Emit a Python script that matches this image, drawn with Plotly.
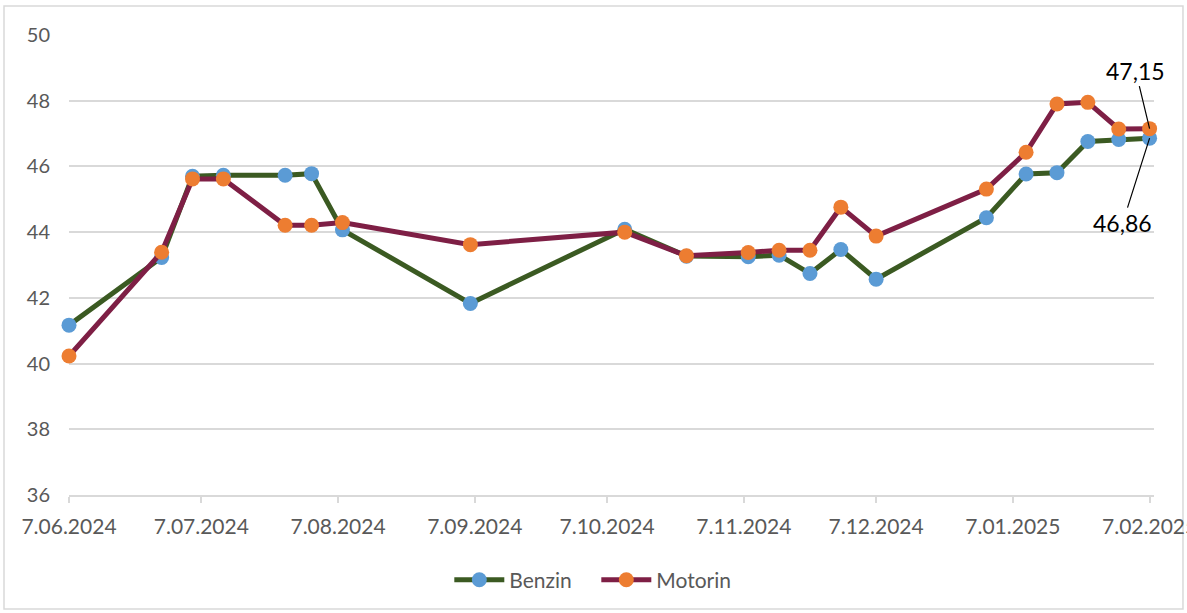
import plotly.graph_objects as go

dates = ["2024-06-07", "2024-06-28", "2024-07-05", "2024-07-12", "2024-07-26", "2024-08-01",
         "2024-08-08", "2024-09-06", "2024-10-11", "2024-10-25", "2024-11-08", "2024-11-15",
         "2024-11-22", "2024-11-29", "2024-12-07", "2025-01-01", "2025-01-10", "2025-01-17",
         "2025-01-24", "2025-01-31", "2025-02-07"]
benzin = [41.17, 43.23, 45.70, 45.73, 45.73, 45.78, 44.07, 41.83, 44.09, 43.27, 43.25,
          43.30, 42.74, 43.47, 42.57, 44.44, 45.77, 45.81, 46.76, 46.82, 46.86]
motorin = [40.23, 43.39, 45.62, 45.62, 44.21, 44.21, 44.29, 43.62, 44.00, 43.28, 43.38,
           43.45, 43.45, 44.76, 43.88, 45.31, 46.43, 47.90, 47.95, 47.14, 47.15]
tick_dates = ["2024-06-07", "2024-07-07", "2024-08-07", "2024-09-07", "2024-10-07",
              "2024-11-07", "2024-12-07", "2025-01-07", "2025-02-07"]
tick_labels = ["7.06.2024", "7.07.2024", "7.08.2024", "7.09.2024", "7.10.2024",
               "7.11.2024", "7.12.2024", "7.01.2025", "7.02.2025"]

FONT = "Lato"
GREY = "#595959"

fig = go.Figure()
fig.add_trace(go.Scatter(
    x=dates, y=benzin, name="Benzin", mode="lines+markers", cliponaxis=False,
    line=dict(color="#3b5a22", width=5),
    marker=dict(color="#5b9bd5", size=15),
))
fig.add_trace(go.Scatter(
    x=dates, y=motorin, name="Motorin", mode="lines+markers", cliponaxis=False,
    line=dict(color="#7e1f45", width=5),
    marker=dict(color="#ed7d31", size=15),
))

fig.add_annotation(x=dates[-1], y=motorin[-1], text="47,15", showarrow=True,
                   arrowhead=0, arrowwidth=1.2, arrowcolor="black", ax=-14, ay=-58,
                   font=dict(family=FONT, size=23, color="black"))
fig.add_annotation(x=dates[-1], y=benzin[-1], text="46,86", showarrow=True,
                   arrowhead=0, arrowwidth=1.2, arrowcolor="black", ax=-27, ay=85,
                   font=dict(family=FONT, size=23, color="black"))

# outer chart border
fig.add_shape(type="rect", xref="paper", yref="paper",
              x0=-0.0599, x1=1.0267, y0=-0.248, y1=1.063,
              line=dict(color="#d9d9d9", width=1.5), fillcolor="rgba(0,0,0,0)", layer="below")

fig.update_layout(
    width=1187, height=613,
    margin=dict(l=69, r=33, t=35, b=118, autoexpand=False),
    paper_bgcolor="white", plot_bgcolor="white",
    font=dict(family=FONT, color=GREY, size=20),
    showlegend=True,
    legend=dict(orientation="h", x=0.486, xanchor="center", y=-0.185, yanchor="middle",
                font=dict(size=21, color=GREY), entrywidth=82, entrywidthmode="pixels",
                itemwidth=50),
)
fig.update_xaxes(
    type="date", range=["2024-06-07", "2025-02-08"],
    tickvals=tick_dates, ticktext=tick_labels,
    showgrid=False, showline=True, linecolor="#d9d9d9", linewidth=1.5,
    ticks="outside", ticklen=6, tickcolor="#d9d9d9", tickwidth=1.5,
    ticklabelstandoff=6, ticklabeloverflow="allow", zeroline=False, automargin=False,
    tickfont=dict(size=21, color=GREY),
)
fig.update_yaxes(
    range=[36, 50], dtick=2, showgrid=True, gridcolor="#d9d9d9", gridwidth=1.5,
    zeroline=False, showline=False, ticks="", ticklabelstandoff=18, automargin=False,
    tickfont=dict(size=20, color=GREY),
)

fig.write_html("out.html", config={"displayModeBar": False},
               post_script="document.body.style.margin='0';document.body.style.padding='0';")
